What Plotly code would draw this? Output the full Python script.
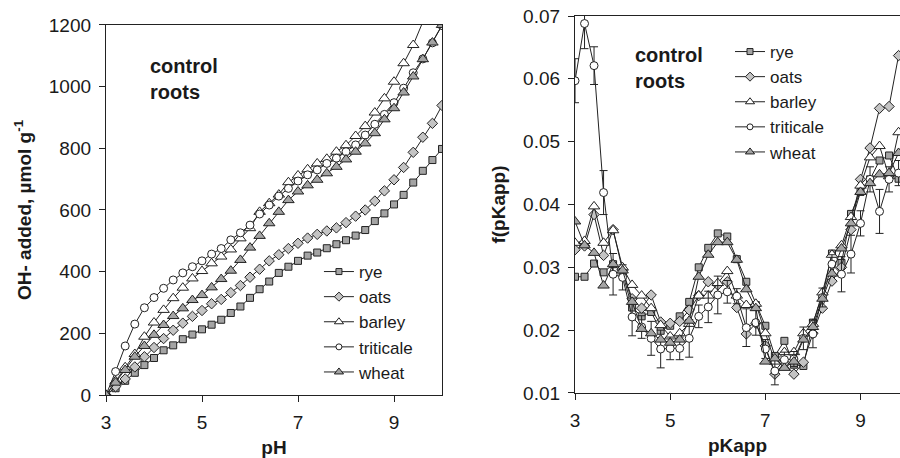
import plotly.graph_objects as go

# ---------------- data ----------------
series_names = ["rye", "oats", "barley", "triticale", "wheat"]

ph = [round(3.0 + 0.2 * i, 1) for i in range(36)]  # 3.0 ... 10.0

oh_rye = [0, 22, 46, 72, 97, 120, 145, 161, 181, 196, 213, 228, 244, 266, 287, 315, 343, 368,
          396, 416, 435, 452, 462, 476, 489, 502, 517, 535, 564, 589, 618, 649, 689, 727, 762, 798]
oh_oats = [0, 27, 52, 91, 124, 154, 183, 210, 233, 255, 274, 296, 310, 332, 355, 382, 408, 435,
           455, 475, 492, 509, 521, 532, 542, 559, 580, 600, 629, 662, 698, 738, 787, 836, 881, 939]
oh_barley = [0, 45, 90, 133, 189, 235, 276, 314, 348, 378, 402, 427, 449, 472, 508, 541, 594, 622,
             650, 690, 712, 732, 751, 766, 789, 810, 840, 872, 916, 962, 1016, 1076, 1135, 1210, 1280, 1350]
oh_triticale = [0, 76, 159, 230, 283, 316, 346, 373, 396, 416, 435, 457, 475, 503, 526, 551, 587, 616,
                645, 670, 694, 714, 730, 751, 768, 789, 811, 843, 878, 910, 948, 995, 1045, 1090, 1142, 1198]
oh_wheat = [0, 40, 81, 124, 159, 195, 227, 256, 281, 308, 324, 349, 376, 403, 438, 478, 516, 557,
            594, 632, 660, 680, 698, 719, 740, 764, 789, 816, 849, 894, 930, 981, 1033, 1089, 1143, 1200]

pk = [round(3.0 + 0.2 * i, 1) for i in range(35)]  # 3.0 ... 9.8

f_rye = [0.0285, 0.0285, 0.0306, 0.0292, 0.0305, 0.0290, 0.0236, 0.0222, 0.0229, 0.0199, 0.0207, 0.0222,
         0.0245, 0.0300, 0.0331, 0.0354, 0.0349, 0.0313, 0.0277, 0.0240, 0.0207, 0.0159, 0.0183, 0.0145,
         0.0143, 0.0212, 0.0254, 0.0322, 0.0307, 0.0385, 0.0420, 0.0440, 0.0470, 0.0478, 0.0441]
f_oats = [0.0328, 0.0334, 0.0384, 0.0319, 0.0360, 0.0295, 0.0250, 0.0235, 0.0256, 0.0213, 0.0211, 0.0214,
          0.0232, 0.0255, 0.0277, 0.0272, 0.0277, 0.0236, 0.0194, 0.0211, 0.0175, 0.0130, 0.0148, 0.0130,
          0.0149, 0.0195, 0.0235, 0.0278, 0.0300, 0.0360, 0.0440, 0.0490, 0.0553, 0.0556, 0.0637]
f_barley = [0.0339, 0.0342, 0.0397, 0.0339, 0.0359, 0.0300, 0.0272, 0.0255, 0.0235, 0.0208, 0.0190, 0.0195,
            0.0210, 0.0255, 0.0255, 0.0275, 0.0294, 0.0255, 0.0240, 0.0242, 0.0195, 0.0150, 0.0165, 0.0165,
            0.0195, 0.0210, 0.0260, 0.0320, 0.0335, 0.0380, 0.0430, 0.0475, 0.0493, 0.0445, 0.0515]
f_triticale = [0.0597, 0.0688, 0.0621, 0.0419, 0.0289, 0.0284, 0.0221, 0.0205, 0.0187, 0.0170, 0.0171, 0.0171,
               0.0187, 0.0222, 0.0237, 0.0256, 0.0261, 0.0254, 0.0204, 0.0212, 0.0170, 0.0135, 0.0153, 0.0154,
               0.0187, 0.0194, 0.0252, 0.0305, 0.0289, 0.0321, 0.0370, 0.0440, 0.0389, 0.0440, 0.0450]
f_triticale_err = [0.0035, 0.0040, 0.0030, 0.0035, 0.0033, 0.0020, 0.0030, 0.0018, 0.0027, 0.0030, 0.0018, 0.0018,
                   0.0030, 0.0018, 0.0025, 0.0030, 0.0018, 0.0012, 0.0030, 0.0020, 0.0015, 0.0022, 0.0012, 0.0012,
                   0.0018, 0.0022, 0.0015, 0.0015, 0.0028, 0.0030, 0.0020, 0.0020, 0.0035, 0.0020, 0.0020]
f_wheat = [0.0373, 0.0335, 0.0323, 0.0271, 0.0305, 0.0295, 0.0245, 0.0202, 0.0195, 0.0185, 0.0180, 0.0185,
           0.0215, 0.0285, 0.0320, 0.0340, 0.0340, 0.0312, 0.0265, 0.0235, 0.0150, 0.0155, 0.0140, 0.0150,
           0.0185, 0.0205, 0.0250, 0.0290, 0.0330, 0.0370, 0.0420, 0.0434, 0.0448, 0.0450, 0.0482]

left_y = [oh_rye, oh_oats, oh_barley, oh_triticale, oh_wheat]
right_y = [f_rye, f_oats, f_barley, f_triticale, f_wheat]

# ---------------- styles ----------------
INK = "#222222"
GREY = "#a4a4a4"
styles = {
    "rye": dict(symbol="square", size=7, legsize=6, color=GREY),
    "oats": dict(symbol="diamond", size=8, legsize=7, color="#c4c4c4"),
    "barley": dict(symbol="triangle-up", size=10, legsize=8, color="white"),
    "triticale": dict(symbol="circle", size=8, legsize=6, color="white"),
    "wheat": dict(symbol="triangle-up", size=10, legsize=8, color=GREY),
}
FONT = "Liberation Sans, Arial, sans-serif"

fig = go.Figure()


def add_panel(xs, ys_list, xa, ya, leg, with_err):
    for name, ys in zip(series_names, ys_list):
        st = styles[name]
        kw = {}
        if with_err and name == "triticale":
            kw["error_y"] = dict(type="data", array=f_triticale_err, color=INK, thickness=1, width=4)
        fig.add_trace(go.Scatter(
            x=xs, y=ys, name=name, mode="lines+markers", xaxis=xa, yaxis=ya, showlegend=False,
            line=dict(color=INK, width=1),
            marker=dict(symbol=st["symbol"], size=st["size"], color=st["color"],
                        line=dict(color=INK, width=1)),
            **kw,
        ))
    # legend entries (smaller symbols, as in the original legend)
    for name in series_names:
        st = styles[name]
        fig.add_trace(go.Scatter(
            x=[None], y=[None], name=name, mode="lines+markers", xaxis=xa, yaxis=ya, legend=leg,
            line=dict(color=INK, width=1),
            marker=dict(symbol=st["symbol"], size=st["legsize"], color=st["color"],
                        line=dict(color=INK, width=1)),
        ))


add_panel(ph, left_y, "x", "y", "legend", False)
add_panel(pk, right_y, "x2", "y2", "legend2", True)

axis_common = dict(showgrid=False, zeroline=False, showline=True, linecolor=INK, linewidth=1.3,
                   ticks="outside", ticklen=6, tickwidth=1.2, tickcolor=INK,
                   tickfont=dict(family=FONT, size=19, color="#1a1a1a"))
title_font = dict(family=FONT, size=19, color="#1a1a1a", weight="bold")

fig.update_layout(
    width=900, height=458,
    margin=dict(l=106, r=0, t=16, b=63),
    paper_bgcolor="white", plot_bgcolor="white",
    font=dict(family=FONT, color="#1a1a1a"),
    xaxis=dict(axis_common, domain=[0, 0.4232], range=[3, 10], tickvals=[3, 5, 7, 9],
               mirror=True, ticklabelstandoff=4,
               title=dict(text="pH", font=title_font, standoff=8), anchor="y"),
    yaxis=dict(axis_common, domain=[0, 0.9763], range=[0, 1200], dtick=200, mirror=True,
               ticklabelstandoff=4,
               title=dict(text="OH- added, µmol g<sup>-1</sup>", font=title_font, standoff=12), anchor="x"),
    xaxis2=dict(axis_common, domain=[0.5907, 1.0], range=[3, 9.83], tickvals=[3, 5, 7, 9],
                mirror=True, ticklabelstandoff=4,
                title=dict(text="pKapp", font=title_font, standoff=8), anchor="y2"),
    yaxis2=dict(axis_common, domain=[0.0053, 1.0], range=[0.01, 0.07], dtick=0.01, tickformat=".2f",
                ticklabelstandoff=4,
                title=dict(text="f(pKapp)", font=title_font, standoff=12), anchor="x2"),
    legend=dict(x=0.2682, y=0.372, xanchor="left", yanchor="top", bgcolor="rgba(0,0,0,0)",
                font=dict(family=FONT, size=17, color="#1a1a1a"), tracegroupgap=0),
    legend2=dict(x=0.7859, y=0.9525, xanchor="left", yanchor="top", bgcolor="rgba(0,0,0,0)",
                 font=dict(family=FONT, size=17, color="#1a1a1a"), tracegroupgap=0),
    annotations=[
        dict(text="control<br>roots", xref="paper", yref="paper", x=0.0529, y=0.8338,
             xanchor="left", yanchor="middle", align="left", showarrow=False,
             font=dict(family=FONT, size=20, color="#1a1a1a", weight="bold")),
        dict(text="control<br>roots", xref="paper", yref="paper", x=0.6637, y=0.864,
             xanchor="left", yanchor="middle", align="left", showarrow=False,
             font=dict(family=FONT, size=20, color="#1a1a1a", weight="bold")),
    ],
)

fig.write_html("out.html")
